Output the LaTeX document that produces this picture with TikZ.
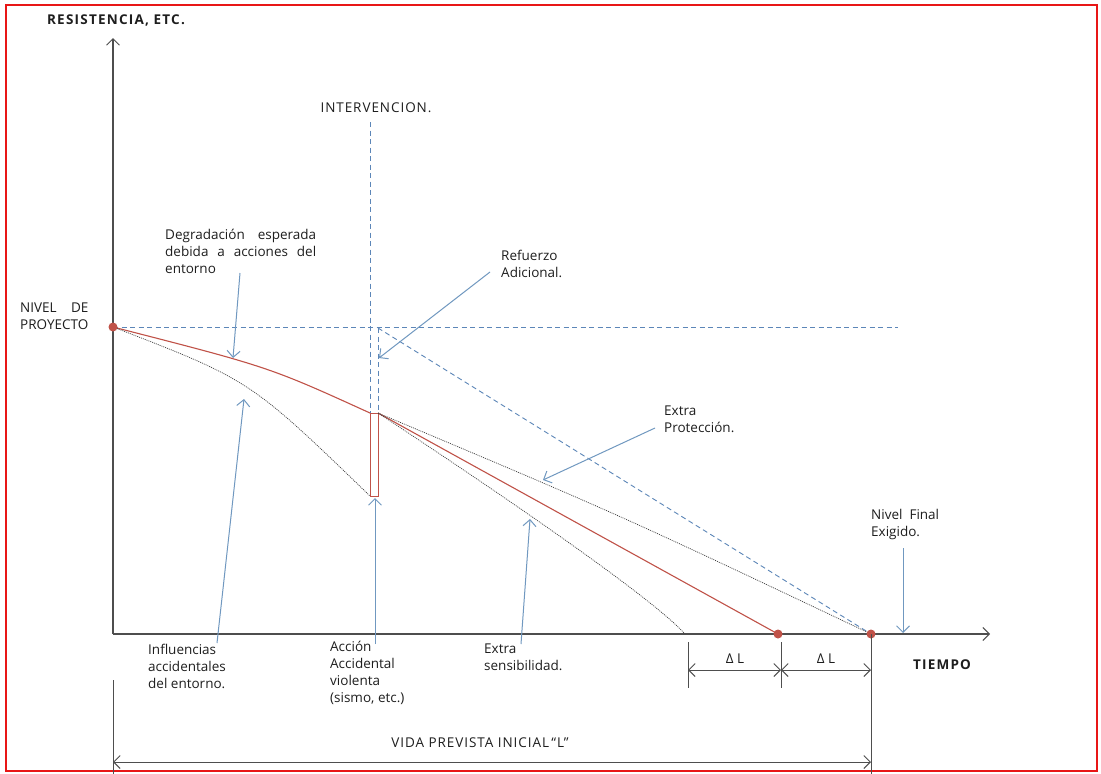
\documentclass[tikz,border=0pt]{standalone}
\usepackage{fontspec}
\setmainfont{Open Sans}
\usetikzlibrary{arrows.meta}

\definecolor{framered}{RGB}{232,22,22}
\definecolor{guideblue}{RGB}{92,134,184}
\definecolor{calloutblue}{RGB}{112,152,192}
\definecolor{degrred}{RGB}{192,82,72}
\definecolor{axisgray}{RGB}{78,78,78}
\definecolor{inkc}{RGB}{30,30,30}

\tikzset{
  barb/.tip={Straight Barb[length=6.5pt,width=13pt,line width=1pt]},
  axisline/.style={draw=axisgray, line width=1.1pt},
  dimline/.style={draw=axisgray, line width=0.9pt},
  guideline/.style={draw=guideblue, line width=0.9pt, dash pattern=on 5pt off 3.5pt},
  callout/.style={draw=calloutblue, line width=1pt, -{barb[color=calloutblue]}},
  degrline/.style={draw=degrred, line width=1.1pt},
  dotcurve/.style={draw=black!75, line width=0.7pt, dash pattern=on 1pt off 1pt},
  enddot/.style={circle, fill=degrred, inner sep=0pt, minimum size=9pt},
  lbl/.style={font=\fontsize{13.5}{17}\selectfont, text=inkc, inner sep=0pt, anchor=north west, align=left},
  plain/.style={font=\fontsize{13.5}{16}\selectfont, text=inkc, inner sep=0pt},
  caps/.style={font=\fontsize{13.5}{16}\selectfont\addfontfeatures{LetterSpace=7}, text=inkc, inner sep=0pt},
  title/.style={font=\bfseries\fontsize{13.5}{15}\selectfont\addfontfeatures{LetterSpace=9}, text=inkc, inner sep=0pt},
}

\begin{document}
\begin{tikzpicture}[x=1pt, y=-1pt]
\useasboundingbox (0,0) rectangle (1101,774);
\fill[white] (0,0) rectangle (1101,774);
\draw[framered, line width=2pt] (6,5) rectangle (1097,771);

% key points
\coordinate (O) at (113,634);
\coordinate (ytop) at (113,38);
\coordinate (xend) at (990,634);
\coordinate (P0) at (113,327);
\coordinate (Hend) at (898,327);
\coordinate (Itop) at (370,122);
\coordinate (Ia) at (370,413);
\coordinate (Ib) at (370,496);
\coordinate (Ra) at (378,413);
\coordinate (Rb) at (378,496);
\coordinate (Rtop) at (378,328);
\coordinate (E0) at (685,634);
\coordinate (E1) at (778,634);
\coordinate (E2) at (871,634);

% axes
\draw[axisline, -{barb[color=axisgray]}] (O) -- (ytop);
\draw[axisline, -{barb[color=axisgray]}] (O) -- (xend);

% project level and intervention guides
\draw[guideline] (P0) -- (Hend);
\draw[guideline] (Itop) -- (Ia);
\draw[guideline] (Rtop) -- (Ra);
\draw[guideline] (Rtop) -- (E2);

% expected degradation (red) and the accidental drop
\draw[degrline] (P0) .. controls (269,367) .. (Ia);
\draw[degrline] (Ra) -- (E1);
\draw[draw=degrred, line width=0.9pt] (Ia) rectangle (Rb);

% alternative degradation paths
\draw[dotcurve] (P0) .. controls (250,380) .. (Ib);
\draw[dotcurve] (Ra) .. controls (480,480) and (650,595) .. (E0);
\draw[dotcurve] (Ra) .. controls (620,515) .. (E2);

% end points
\node[enddot] (p0dot) at (P0) {};
\node[enddot] (e1dot) at (E1) {};
\node[enddot] (e2dot) at (E2) {};

% titles
\node[title] (ylab) at (116,20) {RESISTENCIA, ETC.};
\node[title] (xlab) at (942,665) {TIEMPO};
\node[caps] (interv) at (376,108) {INTERVENCION.};

% labels
\node[lbl] (nivel) at (20,303) {\setbox0\hbox{PROYECTO}\makebox[\wd0][s]{NIVEL DE}\\PROYECTO};
\node[lbl] (degr) at (165,229) {\makebox[151pt][s]{Degradación esperada}\\\makebox[151pt][s]{debida a acciones del}\\entorno};
\node[lbl] (refz) at (501,250) {Refuerzo\\Adicional.};
\node[lbl] (prot) at (664,406) {Extra\\Protección.};
\node[lbl] (final) at (871,509) {Nivel\ \ Final\\Exigido.};
\node[lbl] (infl) at (148,644) {Influencias\\accidentales\\del entorno.};
\node[lbl] (accion) at (330,641) {Acción\\Accidental\\violenta\\(sismo, etc.)};
\node[lbl] (sens) at (484,644) {Extra\\sensibilidad.};

% callouts
\coordinate (cDa) at (240,273); \coordinate (cDb) at (233,358);
\coordinate (cRa) at (490,272); \coordinate (cRb) at (379,358);
\coordinate (cIa) at (217,643); \coordinate (cIb) at (244,399);
\coordinate (cAa) at (375,644); \coordinate (cAb) at (375,498);
\coordinate (cSa) at (521,644); \coordinate (cSb) at (530,519);
\coordinate (cPa) at (655,428); \coordinate (cPb) at (543,480);
\coordinate (cFa) at (903,548); \coordinate (cFb) at (903,633);
\draw[callout] (cDa) -- (cDb);
\draw[callout] (cRa) -- (cRb);
\draw[callout] (cIa) -- (cIb);
\draw[callout] (cAa) -- (cAb);
\draw[callout] (cSa) -- (cSb);
\draw[callout] (cPa) -- (cPb);
\draw[callout] (cFa) -- (cFb);

% dimension lines
\coordinate (dL0t) at (688,642); \coordinate (dL0b) at (688,688);
\coordinate (dL1t) at (781,642); \coordinate (dL1b) at (781,688);
\coordinate (dL2b) at (871,774);
\coordinate (vL0t) at (113,680); \coordinate (vL0b) at (113,774);
\draw[dimline] (dL0t) -- (dL0b);
\draw[dimline] (dL1t) -- (dL1b);
\draw[dimline] (E2) -- (dL2b);
\draw[dimline] (vL0t) -- (vL0b);
\coordinate (a0) at (688,670); \coordinate (a1) at (781,670); \coordinate (a2) at (871,670);
\draw[dimline, {barb[color=axisgray]}-{barb[color=axisgray]}] (a0) -- (a1);
\draw[dimline, {barb[color=axisgray]}-{barb[color=axisgray]}] (a1) -- (a2);
\coordinate (v0) at (113,762); \coordinate (v1) at (871,762);
\draw[dimline, {barb[color=axisgray]}-{barb[color=axisgray]}] (v0) -- (v1);

\node[plain] (dl1) at (735,659) {Δ L};
\node[plain] (dl2) at (826,659) {Δ L};
\node[caps] (vida) at (480,743) {VIDA PREVISTA INICIAL\,“L”};
\end{tikzpicture}
\end{document}
